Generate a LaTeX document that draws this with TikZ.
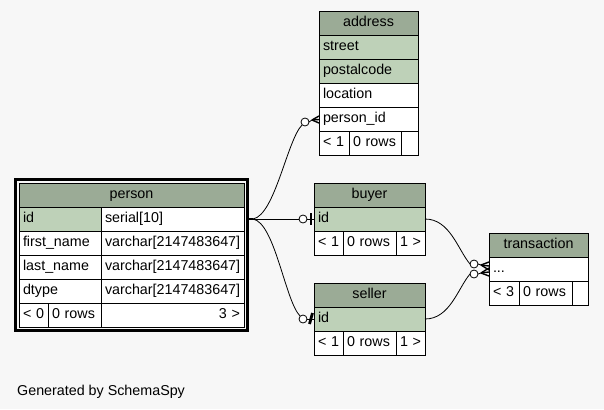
\documentclass[tikz,border=0pt]{standalone}
\usepackage{fontspec}
\setmainfont{Liberation Sans}
\usetikzlibrary{calc}
\definecolor{bgc}{HTML}{F7F7F7}
\definecolor{hdr}{HTML}{9BAB96}
\definecolor{keyc}{HTML}{BED1B8}
\newcommand\tabfont{\fontsize{14.3}{16}\selectfont}
\newcommand\cellL[6]{%
  \pgfmathsetmacro\mytw{#4-8}%
  \node[cell,fill=#5,minimum width=#4pt,text width=\mytw pt,align=left] (#1) at (#2,#3) {\mbox{#6}};}
\newcommand\cellC[6]{%
  \pgfmathsetmacro\mytw{#4-8}%
  \node[cell,fill=#5,minimum width=#4pt,text width=\mytw pt,align=center] (#1) at (#2,#3) {\mbox{#6}};}
\newcommand\cellR[6]{%
  \pgfmathsetmacro\mytw{#4-8}%
  \node[cell,fill=#5,minimum width=#4pt,text width=\mytw pt,align=right] (#1) at (#2,#3) {\mbox{#6}};}
\begin{document}
\begin{tikzpicture}[x=1pt,y=-1pt,
  cell/.style={draw=black,line width=0.9pt,inner xsep=4pt,inner ysep=0pt,outer sep=0pt,
    minimum height=24pt,text height=10pt,text depth=3pt,anchor=north west,font=\tabfont},
  circ/.style={circle,draw=black,fill=white,line width=0.8pt,minimum size=8pt,inner sep=0pt,outer sep=0pt},
  edge/.style={draw=black,line width=0.8pt},
  crow/.style={draw=black,line width=1.4pt},
  tee/.style={draw=black,line width=2.8pt}]
\useasboundingbox (0,0) rectangle (604,409);
\fill[bgc] (0,0) rectangle (604,409);

% address
\cellC{ah}{319}{11}{99}{hdr}{address}
\cellL{ast}{319}{35}{99}{keyc}{street}
\cellL{apc}{319}{59}{99}{keyc}{postalcode}
\cellL{aloc}{319}{83}{99}{white}{location}
\cellL{apid}{319}{107}{99}{white}{person\_id}
\cellL{af1}{319}{131}{30}{white}{< 1}
\cellL{af2}{349}{131}{52}{white}{0 rows}
\cellL{af3}{401}{131}{17}{white}{}

% person
\draw[line width=3pt] (15.5,179.5) rectangle (247.5,330.5);
\cellC{ph}{19}{183}{225}{hdr}{person}
\cellL{pid}{19}{207}{82}{keyc}{id}
\cellL{pidt}{101}{207}{143}{white}{serial[10]}
\cellL{pfn}{19}{231}{82}{white}{first\_name}
\cellL{pfnt}{101}{231}{143}{white}{varchar[2147483647]}
\cellL{pln}{19}{255}{82}{white}{last\_name}
\cellL{plnt}{101}{255}{143}{white}{varchar[2147483647]}
\cellL{pdt}{19}{279}{82}{white}{dtype}
\cellL{pdtt}{101}{279}{143}{white}{varchar[2147483647]}
\cellL{pf1}{19}{303}{29}{white}{< 0}
\cellL{pf2}{48}{303}{53}{white}{0 rows}
\cellR{pf3}{101}{303}{143}{white}{3 >}

% buyer
\cellC{bh}{314}{183}{111}{hdr}{buyer}
\cellL{bid}{314}{207}{111}{keyc}{id}
\cellL{bf1}{314}{231}{29}{white}{< 1}
\cellL{bf2}{343}{231}{53}{white}{0 rows}
\cellL{bf3}{396}{231}{29}{white}{1 >}

% seller
\cellC{sh}{314}{283}{111}{hdr}{seller}
\cellL{sid}{314}{307}{111}{keyc}{id}
\cellL{sf1}{314}{331}{29}{white}{< 1}
\cellL{sf2}{343}{331}{53}{white}{0 rows}
\cellL{sf3}{396}{331}{29}{white}{1 >}

% transaction
\cellC{th}{489}{233}{99}{hdr}{transaction}
\cellL{tdot}{489}{257}{99}{white}{...}
\cellL{tf1}{489}{281}{30}{white}{< 3}
\cellL{tf2}{519}{281}{53}{white}{0 rows}
\cellL{tf3}{572}{281}{16}{white}{}

% junction at person.id
\coordinate (pj) at ($(pidt.east)+(9,0)$);
\draw[line width=2.2pt] ($(pidt.east)+(4,0)$) -- (pj);

% circles
\node[circ] (ca) at ($(apid.west)+(-14,3)$) {};
\node[circ] (cb) at ($(bid.west)+(-11,0)$) {};
\node[circ] (cs) at ($(sid.west)+(-11,0)$) {};
\node[circ] (ct1) at ($(tdot.west)+(-15,-5)$) {};
\node[circ] (ct2) at ($(tdot.west)+(-15,5)$) {};

% person -> address
\draw[edge] (pj) .. controls +(22,-4) and +(-15,15) .. (ca.south west);
\coordinate (axa) at ($(apid.west)+(-7,1)$);
\draw[edge] (ca.east) -- (axa);
\draw[crow] (axa) -- ($(apid.west)+(0,-3)$);
\draw[crow] (axa) -- ($(apid.west)+(0,0.5)$);
\draw[crow] (axa) -- ($(apid.west)+(0,4)$);

% person -> buyer
\draw[edge] (pj) -- (cb.west);
\draw[edge] (cb.east) -- (bid.west);
\draw[tee] ($(bid.west)+(-3,-6)$) -- ($(bid.west)+(-3,6)$);

% person -> seller
\draw[edge] (pj) .. controls +(22,4) and +(-15,-15) .. (cs.north west);
\draw[edge] (cs.east) -- (sid.west);
\draw[tee] ($(sid.west)+(-1.5,-6)$) -- ($(sid.west)+(-4.5,5)$);

% buyer -> transaction
\draw[edge] (bid.east) .. controls +(25,0) and +(-12,-14) .. (ct1.west);
\coordinate (txa1) at ($(tdot.west)+(-8,-4)$);
\draw[edge] (ct1.east) -- (txa1);
\draw[crow] (txa1) -- ($(tdot.west)+(0,-7)$);
\draw[crow] (txa1) -- ($(tdot.west)+(0,-3)$);
\draw[crow] (txa1) -- ($(tdot.west)+(0,1)$);

% seller -> transaction
\draw[edge] (sid.east) .. controls +(25,0) and +(-12,14) .. (ct2.west);
\coordinate (txa2) at ($(tdot.west)+(-8,4)$);
\draw[edge] (ct2.east) -- (txa2);
\draw[crow] (txa2) -- ($(tdot.west)+(0,-1)$);
\draw[crow] (txa2) -- ($(tdot.west)+(0,3)$);
\draw[crow] (txa2) -- ($(tdot.west)+(0,7)$);

\node[anchor=base west,inner sep=0pt,font=\tabfont] (gen) at (17,395) {Generated by SchemaSpy};
\end{tikzpicture}
\end{document}
